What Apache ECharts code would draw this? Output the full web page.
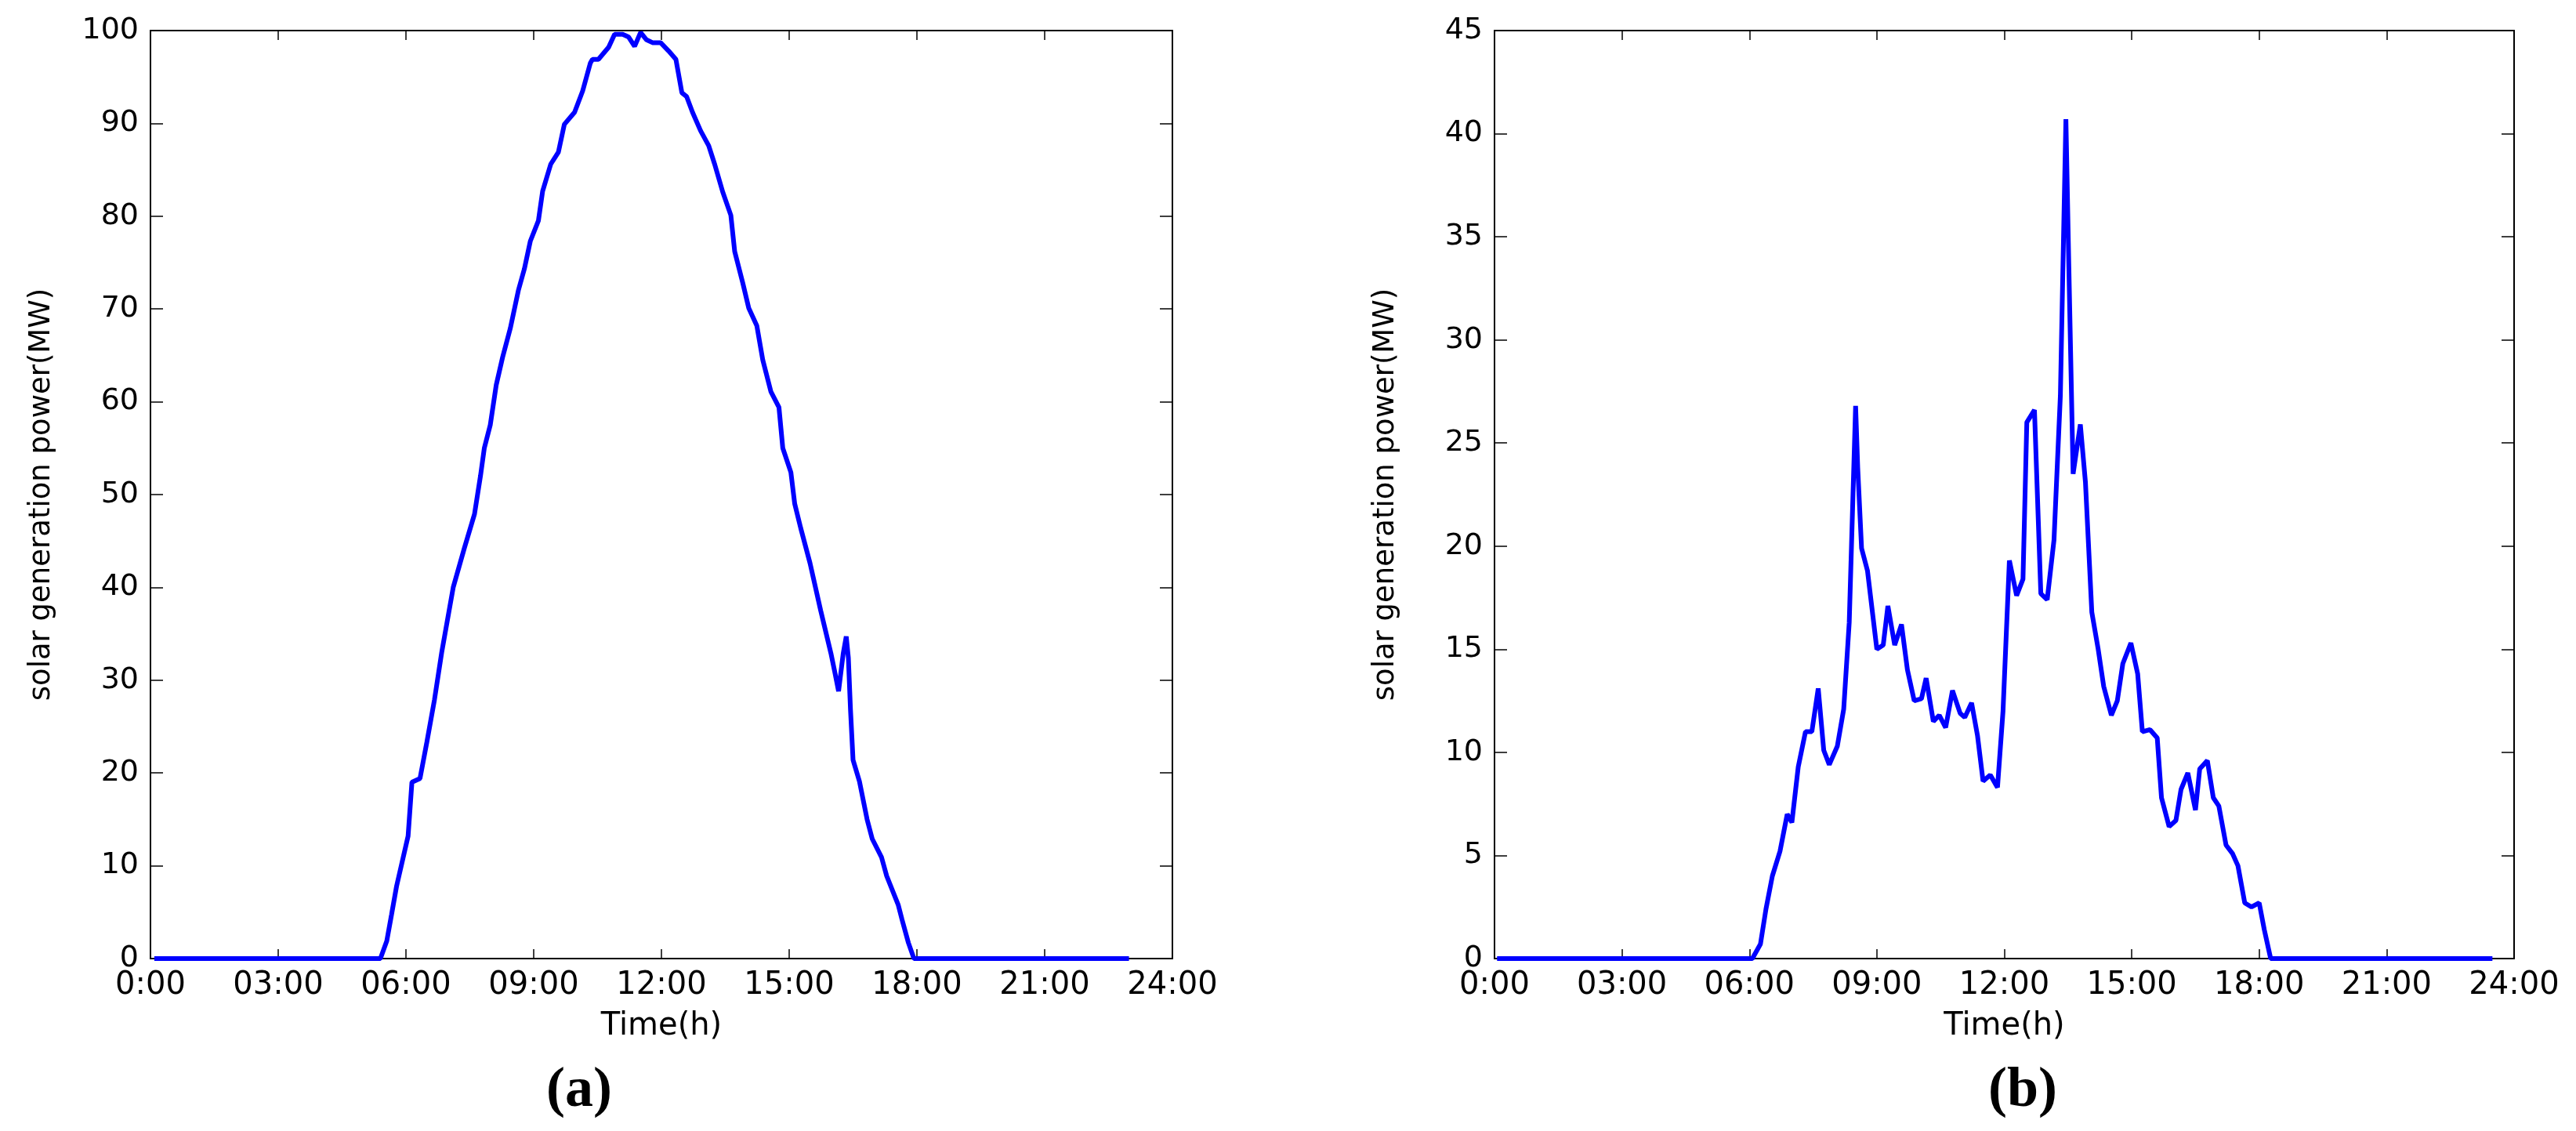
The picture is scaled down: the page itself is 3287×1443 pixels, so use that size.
<!DOCTYPE html>
<html>
<head>
<meta charset="utf-8">
<script src="https://cdn.jsdelivr.net/npm/echarts/dist/echarts.min.js"></script>
<style>
html,body{margin:0;padding:0;background:#fff;}
#chart{width:3287px;height:1443px;}
</style>
</head>
<body>
<div id="chart"></div>
<script>
// ---- data ----
const xTickLabels = ['0:00','03:00','06:00','09:00','12:00','15:00','18:00','21:00','24:00'];
const yTicksA = [0,10,20,30,40,50,60,70,80,90,100];
const yTicksB = [0,5,10,15,20,25,30,35,40,45];

const hoursA = [0.09,5.40,5.55,5.66,5.78,6.05,6.14,6.33,6.49,6.67,6.84,7.11,7.37,7.61,7.75,7.84,7.98,8.12,8.27,8.45,8.64,8.78,8.92,9.11,9.21,9.40,9.58,9.72,9.96,10.15,10.33,10.38,10.52,10.76,10.90,11.09,11.23,11.37,11.51,11.65,11.79,11.98,12.17,12.34,12.48,12.59,12.73,12.92,13.11,13.25,13.44,13.63,13.72,13.91,14.05,14.24,14.38,14.57,14.76,14.85,15.04,15.13,15.27,15.49,15.74,15.98,16.07,16.16,16.27,16.34,16.39,16.44,16.50,16.65,16.83,16.95,17.17,17.29,17.56,17.65,17.80,17.93,22.98];
const powerA = [0,0,1.9,4.7,7.8,13.2,19.0,19.4,23.3,27.9,33.0,40.0,44.2,47.9,52.0,55.0,57.5,61.8,64.8,67.9,72.0,74.3,77.3,79.5,82.7,85.6,86.9,89.9,91.2,93.5,96.5,96.9,96.9,98.2,99.6,99.6,99.3,98.3,99.8,99.0,98.7,98.7,97.8,96.9,93.3,92.9,91.2,89.2,87.6,85.6,82.6,80.1,76.2,72.8,70.1,68.2,64.5,61.1,59.4,55.0,52.4,49.0,46.4,42.6,37.5,32.9,30.9,28.8,32.9,34.7,32.4,26.8,21.4,19.1,15.0,12.9,10.9,8.9,5.8,4.2,1.7,0,0];

const hoursB = [0.06,6.07,6.26,6.39,6.54,6.72,6.89,7.00,7.15,7.32,7.47,7.62,7.75,7.88,8.07,8.22,8.35,8.50,8.55,8.64,8.78,9.00,9.15,9.26,9.42,9.58,9.72,9.88,10.05,10.16,10.33,10.47,10.62,10.78,10.96,11.07,11.23,11.37,11.50,11.67,11.84,11.97,12.12,12.29,12.44,12.53,12.71,12.86,13.01,13.17,13.32,13.45,13.52,13.62,13.79,13.91,14.06,14.21,14.34,14.52,14.66,14.79,14.98,15.14,15.25,15.43,15.60,15.70,15.88,16.04,16.16,16.32,16.50,16.60,16.78,16.92,17.05,17.22,17.37,17.50,17.66,17.82,18.00,18.12,18.27,23.49];
const powerB = [0,0,0.7,2.4,4.0,5.2,7.0,6.6,9.3,11.0,11.0,13.1,10.1,9.4,10.3,12.1,16.3,26.8,23.8,19.9,18.8,15.0,15.2,17.1,15.2,16.2,14.0,12.5,12.6,13.6,11.5,11.8,11.2,13.0,11.9,11.7,12.4,10.8,8.6,8.9,8.3,12.0,19.3,17.6,18.4,26.0,26.6,17.7,17.4,20.3,27.3,40.7,33.5,23.5,25.9,23.1,16.8,15.0,13.2,11.8,12.5,14.3,15.3,13.8,11.0,11.1,10.7,7.8,6.4,6.7,8.2,9.0,7.2,9.2,9.6,7.8,7.4,5.5,5.1,4.5,2.7,2.5,2.7,1.4,0,0];

// ---- chart ----
const FONT = '"DejaVu Sans", Arial, sans-serif';
const pairs = (xs, ys) => xs.map((x, i) => [x, ys[i]]);
const grids = [
  {left: 192, top: 39, width: 1304, height: 1184},
  {left: 1907, top: 39, width: 1301, height: 1184}
];
const lineW = 2;

function xAxes(g) {
  return [
    {
      type: 'value', gridIndex: g, position: 'bottom', min: 0, max: 24, interval: 3,
      axisLine: {onZero: false, lineStyle: {color: '#000', width: lineW}},
      axisTick: {inside: true, length: 12, lineStyle: {color: '#000', width: 1.5}},
      axisLabel: {margin: 15, color: '#000', fontSize: 40, fontFamily: FONT,
        formatter: v => xTickLabels[Math.round(v / 3)]},
      splitLine: {show: false},
      name: 'Time(h)', nameLocation: 'middle', nameGap: 67,
      nameTextStyle: {color: '#000', fontSize: 40, fontFamily: FONT}
    },
    {
      type: 'value', gridIndex: g, position: 'top', min: 0, max: 24, interval: 3,
      axisLine: {onZero: false, lineStyle: {color: '#000', width: lineW}},
      axisTick: {inside: true, length: 12, lineStyle: {color: '#000', width: 1.5}},
      axisLabel: {show: false}, splitLine: {show: false}
    }
  ];
}
function yAxes(g, ticks) {
  const mx = ticks[ticks.length - 1], iv = ticks[1] - ticks[0];
  return [
    {
      type: 'value', gridIndex: g, position: 'left', min: 0, max: mx, interval: iv,
      axisLine: {show: true, onZero: false, lineStyle: {color: '#000', width: lineW}},
      axisTick: {show: true, inside: true, length: 16, lineStyle: {color: '#000', width: 1.5}},
      axisLabel: {margin: 15, color: '#000', fontSize: 38, fontFamily: FONT},
      splitLine: {show: false},
      name: 'solar generation power(MW)', nameLocation: 'middle', nameGap: 120,
      nameTextStyle: {color: '#000', fontSize: 37, fontFamily: FONT}
    },
    {
      type: 'value', gridIndex: g, position: 'right', min: 0, max: mx, interval: iv,
      axisLine: {show: true, onZero: false, lineStyle: {color: '#000', width: lineW}},
      axisTick: {show: true, inside: true, length: 16, lineStyle: {color: '#000', width: 1.5}},
      axisLabel: {show: false}, splitLine: {show: false}
    }
  ];
}

const chart = echarts.init(document.getElementById('chart'), null, {renderer: 'canvas'});
chart.setOption({
  animation: false,
  backgroundColor: '#fff',
  grid: grids,
  xAxis: [...xAxes(0), ...xAxes(1)],
  yAxis: [...yAxes(0, yTicksA), ...yAxes(1, yTicksB)],
  series: [
    {type: 'line', xAxisIndex: 0, yAxisIndex: 0, data: pairs(hoursA, powerA),
     symbol: 'none', lineStyle: {color: '#0000ff', width: 6}, z: 5},
    {type: 'line', xAxisIndex: 2, yAxisIndex: 2, data: pairs(hoursB, powerB),
     symbol: 'none', lineStyle: {color: '#0000ff', width: 6}, z: 5}
  ],
  graphic: [
    {type: 'text', x: 739, y: 1392, style: {text: '(a)', textAlign: 'center', textVerticalAlign: 'middle',
      font: 'bold 72px "Liberation Serif", "Times New Roman", serif', fill: '#000'}},
    {type: 'text', x: 2581, y: 1392, style: {text: '(b)', textAlign: 'center', textVerticalAlign: 'middle',
      font: 'bold 72px "Liberation Serif", "Times New Roman", serif', fill: '#000'}}
  ]
});
</script>
</body>
</html>
